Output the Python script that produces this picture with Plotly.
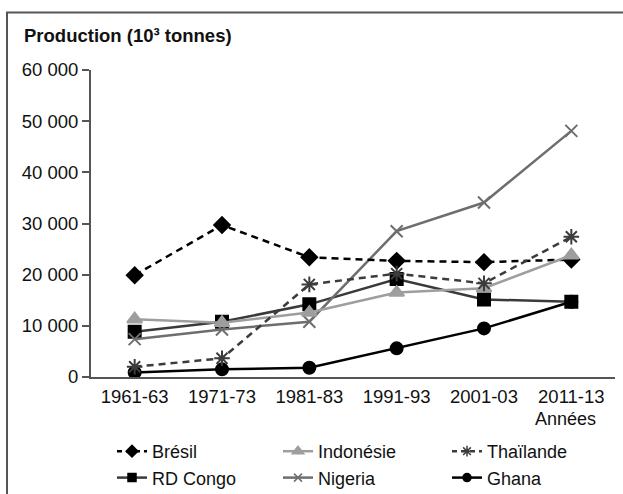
import plotly.graph_objects as go

# Data (10^3 tonnes)
periods = ["1961-63", "1971-73", "1981-83", "1991-93", "2001-03", "2011-13"]

bresil = [19900, 29700, 23400, 22700, 22450, 22950]
indonesie = [11300, 10600, 12600, 16500, 17350, 23800]
thailande = [2000, 3650, 18100, 20200, 18300, 27400]
rd_congo = [8850, 10800, 14200, 19150, 15150, 14700]
nigeria = [7400, 9300, 10800, 28500, 34100, 48100]
ghana = [900, 1500, 1820, 5600, 9500, 14700]

y_ticks = [0, 10000, 20000, 30000, 40000, 50000, 60000]
y_tick_text = ["0", "10 000", "20 000", "30 000", "40 000", "50 000", "60 000"]

FONT = "Liberation Sans, Arial, sans-serif"
AXIS = "#555555"
TEXT = "#111111"

W, H = 623, 494
L, R, T, B = 91, 8, 70, 117
PW, PH = W - L - R, H - T - B


def px_x(p):
    return (p - L) / PW


def px_y(p):
    return (H - B - p) / PH


# (name, values, line colour, dash, symbol, marker colour, size, legend size, legend, rank)
series = [
    ("Ghana", ghana, "#000000", "solid", "circle", "#000000", 12, 8, "legend3", 2),
    ("RD Congo", rd_congo, "#3a3a3a", "solid", "square", "#000000", 12, 8, "legend", 2),
    ("Nigeria", nigeria, "#6e6e6e", "solid", "x-thin-open", "#6e6e6e", 12, 8, "legend2", 2),
    ("Brésil", bresil, "#000000", "7px,5px", "diamond", "#000000", 12, 9, "legend", 1),
    ("Indonésie", indonesie, "#9e9e9e", "solid", "triangle-up", "#9e9e9e", 13, 10, "legend2", 1),
    ("Thaïlande", thailande, "#3c3c3c", "7px,5px", "asterisk-open", "#3c3c3c", 13, 9, "legend3", 1),
]

fig = go.Figure()
for name, vals, lc, dash, sym, mc, size, lsize, leg, rank in series:
    fig.add_trace(go.Scatter(
        x=periods,
        y=vals,
        name=name,
        mode="lines+markers",
        line=dict(color=lc, width=2.5, dash=dash),
        marker=dict(symbol=sym, color=mc, size=size, line=dict(color=mc, width=2)),
        showlegend=False,
        hoverinfo="skip",
    ))
    # legend-only entry with the smaller key symbol
    fig.add_trace(go.Scatter(
        x=[None],
        y=[None],
        name=name,
        mode="lines+markers",
        line=dict(color=lc, width=2.5, dash="5px,4px" if dash != "solid" else "solid"),
        marker=dict(symbol=sym, color=mc, size=lsize, line=dict(color=mc, width=1.5)),
        legend=leg,
        legendrank=rank,
        hoverinfo="skip",
    ))

legend_style = dict(
    orientation="v",
    yanchor="top",
    xanchor="left",
    y=px_y(433),
    font=dict(family=FONT, size=18, color=TEXT),
    bgcolor="rgba(0,0,0,0)",
    itemwidth=30,
    traceorder="normal",
)

fig.update_layout(
    width=W,
    height=H,
    margin=dict(l=L, r=R, t=T, b=B, autoexpand=False),
    plot_bgcolor="white",
    paper_bgcolor="white",
    font=dict(family=FONT, size=18, color=TEXT),
    showlegend=True,
    legend=dict(legend_style, x=px_x(112)),
    legend2=dict(legend_style, x=px_x(278)),
    legend3=dict(legend_style, x=px_x(447)),
    xaxis=dict(
        type="category",
        range=[-0.5, 5.5],
        showline=True,
        linecolor=AXIS,
        linewidth=2,
        showgrid=False,
        zeroline=False,
        ticks="outside",
        ticklen=2,
        tickcolor="rgba(0,0,0,0)",
        tickfont=dict(family=FONT, size=18.5, color=TEXT),
    ),
    yaxis=dict(
        range=[0, 60000],
        tickvals=y_ticks,
        ticktext=y_tick_text,
        showline=True,
        linecolor=AXIS,
        linewidth=2,
        showgrid=False,
        zeroline=False,
        ticks="outside",
        ticklen=7,
        tickwidth=1.5,
        tickcolor=AXIS,
        tickfont=dict(family=FONT, size=18.5, color=TEXT),
    ),
    annotations=[
        dict(
            text="<b>Production (10³ tonnes)</b>",
            xref="paper", yref="paper",
            x=px_x(22), y=px_y(36),
            xanchor="left", yanchor="middle",
            showarrow=False,
            font=dict(family=FONT, size=18.5, color=TEXT),
        ),
        dict(
            text="Années",
            xref="paper", yref="paper",
            x=px_x(598), y=px_y(419),
            xanchor="right", yanchor="middle",
            showarrow=False,
            font=dict(family=FONT, size=18, color=TEXT),
        ),
    ],
    shapes=[
        dict(
            type="rect",
            xref="paper", yref="paper",
            x0=px_x(7), x1=px_x(640),
            y0=px_y(520), y1=px_y(12.5),
            line=dict(color="#555555", width=2),
            layer="below",
        ),
    ],
)

# drop the default page margin so the figure sits at the window's top-left corner
fig.write_html(
    "out.html",
    config={"displayModeBar": False},
    post_script="document.body.style.margin='0';document.body.style.overflow='hidden';",
)
